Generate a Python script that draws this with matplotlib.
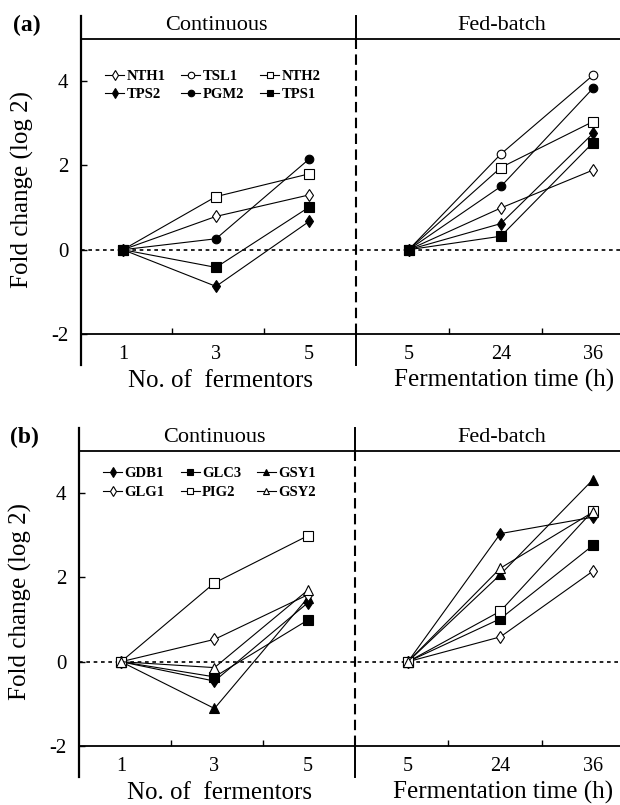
import numpy as np
import matplotlib.pyplot as plt
from matplotlib.lines import Line2D

plt.rcParams['font.family'] = ['Liberation Serif', 'DejaVu Serif']

cont_ticks = ['1', '3', '5']
fed_ticks = ['5', '24', '36']

# panel (a): trehalose genes
genes_a = ['NTH1', 'TSL1', 'NTH2', 'TPS2', 'PGM2', 'TPS1']
cont_a = [[0, 0.79, 1.30],
          None,
          [0, 1.26, 1.80],
          [0, -0.87, 0.67],
          [0, 0.26, 2.15],
          [0, -0.42, 1.01]]
fed_a = [[0, 0.99, 1.89],
         [0, 2.27, 4.14],
         [0, 1.95, 3.04],
         [0, 0.62, 2.76],
         [0, 1.50, 3.83],
         [0, 0.32, 2.54]]

# panel (b): glycogen genes
genes_b = ['GDB1', 'GLC3', 'GSY1', 'GLG1', 'PIG2', 'GSY2']
cont_b = [[0, -0.46, 1.40],
          [0, -0.36, 0.99],
          [0, -1.11, 1.52],
          [0, 0.53, 1.59],
          [0, 1.87, 2.99],
          [0, -0.14, 1.70]]
fed_b = [[0, 3.04, 3.43],
         [0, 1.02, 2.76],
         [0, 2.07, 4.32],
         [0, 0.59, 2.15],
         [0, 1.20, 3.58],
         [0, 2.22, 3.55]]

# marker, filled?
style_a = [('d', False), ('o', False), ('s', False), ('d', True), ('o', True), ('s', True)]
style_b = [('d', True), ('s', True), ('^', True), ('d', False), ('s', False), ('^', False)]

x_cont = np.array([0, 1, 2])
x_fed = np.array([3.07, 4.06, 5.05])
x_div = 2.5


def draw_panel(ax, tag, genes, cont, fed, styles, leg_y):
    ax.set_xlim(-0.45, 5.34)
    ax.set_ylim(-2, 5)
    ax.axhline(0, color='black', lw=1.2, ls=(0, (2.2, 2.2)), zorder=1)

    handles = []
    for g, c, f, (m, filled) in zip(genes, cont, fed, styles):
        ms = 6.5 if m in ('s', '^') else 6.2
        kw = dict(color='black', lw=0.8, marker=m, ms=ms, mec='black',
                  mfc='black' if filled else 'white', mew=0.8, zorder=3)
        if c is not None:
            ax.plot(x_cont, c, **kw)
        ax.plot(x_fed, f, **kw)
        kw['ms'] = ms - 1.5
        handles.append(Line2D([], [], label=g, **kw))

    # column-wise fill -> reorder so rows read as in the figure
    order = [0, 3, 1, 4, 2, 5]
    ax.legend([handles[i] for i in order], [genes[i] for i in order], ncol=3,
              loc='upper left', bbox_to_anchor=(0.045, leg_y), frameon=False,
              prop={'weight': 'bold', 'size': 10.5}, handlelength=1.3,
              handletextpad=0.15, columnspacing=1.1, labelspacing=0.35,
              borderaxespad=0, borderpad=0)

    for s in ['left', 'right']:
        ax.spines[s].set_visible(False)
    ax.spines['top'].set_linewidth(1.3)
    ax.spines['bottom'].set_linewidth(1.3)

    # extended left axis line and section divider
    tr = ax.get_xaxis_transform()
    ax.plot([0, 0], [-0.105, 1.077], transform=ax.transAxes, color='black',
            lw=1.6, clip_on=False)
    ax.plot([x_div, x_div], [1.0, 1.077], transform=tr, color='black', lw=1.4, clip_on=False)
    ax.plot([x_div, x_div], [0.0, 1.0], transform=tr, color='black', lw=1.5,
            ls=(0, (5, 2.6)), clip_on=False)
    ax.plot([x_div, x_div], [-0.105, 0.0], transform=tr, color='black', lw=1.4, clip_on=False)

    ax.set_yticks([-2, 0, 2, 4])
    ax.set_yticklabels(['-2', '0', '2', '4'])
    ax.tick_params(axis='y', direction='in', length=4, width=1, pad=9, labelsize=15)
    ax.set_xticks(np.concatenate([x_cont, x_fed]))
    ax.set_xticklabels(cont_ticks + fed_ticks)
    ax.tick_params(axis='x', length=0, pad=8, labelsize=14.5)
    ax.set_xticks([0.53, 1.52, 3.5, 4.5], minor=True)
    ax.tick_params(axis='x', which='minor', direction='in', length=4.5, width=1)

    ax.text(1.0, 1.045, 'Continuous', transform=tr, ha='center', va='center', fontsize=16)
    ax.text(4.07, 1.045, 'Fed-batch', transform=tr, ha='center', va='center', fontsize=16)
    ax.text(1.05, -0.158, 'No. of  fermentors', transform=tr, ha='center', va='center', fontsize=18)
    ax.text(4.09, -0.158, 'Fermentation time (h)', transform=tr, ha='center', va='center', fontsize=18)
    ax.text(-0.109, 0.49, 'Fold change (log 2)', transform=ax.transAxes, rotation=90,
            ha='center', va='center', fontsize=18)
    ax.text(-0.1, 1.045, tag, transform=ax.transAxes, ha='center', va='center',
            fontsize=17, fontweight='bold')


fig = plt.figure(figsize=(6.2, 8.05), dpi=100)
ax_a = fig.add_axes([81 / 620, 1 - 334 / 805, 539 / 620, 295 / 805])
ax_b = fig.add_axes([79 / 620, 1 - 746 / 805, 541 / 620, 295 / 805])

draw_panel(ax_a, '(a)', genes_a, cont_a, fed_a, style_a, 0.895)
draw_panel(ax_b, '(b)', genes_b, cont_b, fed_b, style_b, 0.945)

fig.savefig('out.png', dpi=100)
